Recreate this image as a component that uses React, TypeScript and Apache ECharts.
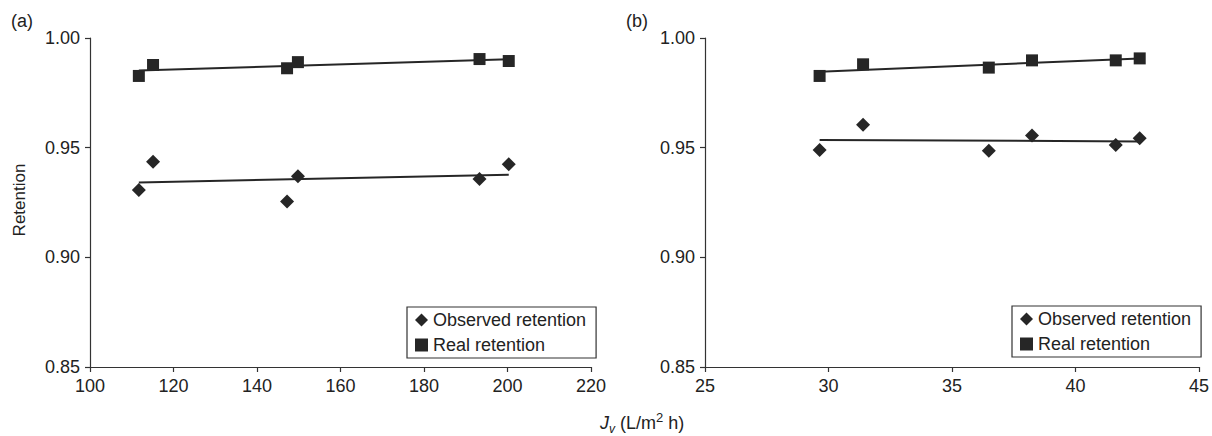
import React, { useEffect, useRef } from "react";
import * as echarts from "echarts";

// Panel (a)
const aFlux = [111.7, 115.1, 147.2, 149.8, 193.3, 200.3];
const aObserved = [0.9307, 0.9436, 0.9254, 0.937, 0.9357, 0.9424];
const aReal = [0.9827, 0.9877, 0.9862, 0.989, 0.9904, 0.9895];

// Panel (b)
const bFlux = [29.64, 31.4, 36.49, 38.24, 41.63, 42.6];
const bObserved = [0.9489, 0.9605, 0.9486, 0.9555, 0.9512, 0.9543];
const bReal = [0.9827, 0.988, 0.9865, 0.9898, 0.9898, 0.9907];

const yTicks = [0.85, 0.9, 0.95, 1.0];
const aXTicks = [100, 120, 140, 160, 180, 200, 220];
const bXTicks = [25, 30, 35, 40, 45];

const OBS = "Observed retention";
const REAL = "Real retention";

function fit(xs: number[], ys: number[]): number[][] {
  const n = xs.length;
  const mx = xs.reduce((s, v) => s + v, 0) / n;
  const my = ys.reduce((s, v) => s + v, 0) / n;
  let sxy = 0;
  let sxx = 0;
  for (let i = 0; i < n; i++) {
    sxy += (xs[i] - mx) * (ys[i] - my);
    sxx += (xs[i] - mx) * (xs[i] - mx);
  }
  const b = sxy / sxx;
  const a = my - b * mx;
  const x0 = Math.min(...xs);
  const x1 = Math.max(...xs);
  return [
    [x0, a + b * x0],
    [x1, a + b * x1],
  ];
}

const FONT = "Liberation Sans, Arial, Helvetica, sans-serif";
const INK = "#222";
const AXIS = "#333";
const MARK = "#262626";

export default function App() {
  const ref = useRef<HTMLDivElement>(null);

  useEffect(() => {
    if (!ref.current) return;
    const chart = echarts.init(ref.current, null, { renderer: "svg" });

    const xAxisBase = (min: number, max: number, interval: number, gridIndex: number) => ({
      type: "value",
      gridIndex,
      min,
      max,
      interval,
      splitLine: { show: false },
      axisLine: { show: true, onZero: false, lineStyle: { color: AXIS, width: 1.2 } },
      axisTick: { show: true, inside: false, length: 5, lineStyle: { color: AXIS, width: 1.2 } },
      axisLabel: { margin: 10, fontSize: 18, color: INK, fontFamily: FONT },
    });

    const yAxisBase = (gridIndex: number) => ({
      type: "value",
      gridIndex,
      min: yTicks[0],
      max: yTicks[yTicks.length - 1],
      interval: 0.05,
      splitLine: { show: false },
      axisLine: { show: true, onZero: false, lineStyle: { color: AXIS, width: 1.2 } },
      axisTick: { show: true, inside: false, length: 5, lineStyle: { color: AXIS, width: 1.2 } },
      axisLabel: {
        margin: 10,
        fontSize: 18,
        color: INK,
        fontFamily: FONT,
        formatter: (v: number) => v.toFixed(2),
      },
    });

    const legendBase = (left: number, top: number) => ({
      left,
      top,
      orient: "vertical",
      data: [OBS, REAL],
      borderColor: AXIS,
      borderWidth: 1.2,
      padding: [3, 10, 3, 8],
      itemGap: 5,
      itemWidth: 13,
      itemHeight: 13,
      itemStyle: { color: MARK, opacity: 1 },
      textStyle: { fontSize: 18, color: INK, fontFamily: FONT, lineHeight: 20 },
      selectedMode: false,
    });

    const scatter = (name: string, xs: number[], ys: number[], idx: number, symbol: string, size: number) => ({
      type: "scatter",
      name,
      xAxisIndex: idx,
      yAxisIndex: idx,
      symbol,
      symbolSize: size,
      itemStyle: { color: MARK, opacity: 1 },
      z: 5,
      data: xs.map((x, i) => [x, ys[i]]),
    });

    const trend = (name: string, xs: number[], ys: number[], idx: number) => ({
      type: "line",
      name,
      xAxisIndex: idx,
      yAxisIndex: idx,
      showSymbol: false,
      symbol: "none",
      lineStyle: { color: MARK, width: 2 },
      z: 3,
      data: fit(xs, ys),
    });

    chart.setOption({
      animation: false,
      backgroundColor: "#ffffff",
      textStyle: { fontFamily: FONT },
      grid: [
        { left: 90, top: 38, width: 501, height: 329 },
        { left: 705, top: 38, width: 496, height: 329 },
      ],
      xAxis: [
        xAxisBase(aXTicks[0], aXTicks[aXTicks.length - 1], 20, 0),
        xAxisBase(bXTicks[0], bXTicks[bXTicks.length - 1], 5, 1),
      ],
      yAxis: [yAxisBase(0), yAxisBase(1)],
      legend: [legendBase(407, 307), legendBase(1012, 306)],
      series: [
        trend("fitObsA", aFlux, aObserved, 0),
        trend("fitRealA", aFlux, aReal, 0),
        scatter(OBS, aFlux, aObserved, 0, "diamond", 14),
        scatter(REAL, aFlux, aReal, 0, "rect", 12),
        trend("fitObsB", bFlux, bObserved, 1),
        trend("fitRealB", bFlux, bReal, 1),
        scatter(OBS, bFlux, bObserved, 1, "diamond", 14),
        scatter(REAL, bFlux, bReal, 1, "rect", 12),
      ],
      graphic: [
        {
          type: "text",
          left: 11,
          top: 12,
          style: { text: "(a)", fontSize: 18, fill: INK, fontFamily: FONT },
        },
        {
          type: "text",
          left: 626,
          top: 12,
          style: { text: "(b)", fontSize: 18, fill: INK, fontFamily: FONT },
        },
        {
          type: "text",
          x: 19,
          y: 200,
          rotation: Math.PI / 2,
          style: {
            text: "Retention",
            fontSize: 17,
            fill: INK,
            fontFamily: FONT,
            align: "center",
            verticalAlign: "middle",
          },
        },
        {
          type: "text",
          x: 600,
          y: 423,
          style: {
            text: "{j|J}{s|v}{n| (L/m}{p|2}{n| h)}",
            fill: INK,
            fontFamily: FONT,
            verticalAlign: "middle",
            align: "left",
            rich: {
              j: { fontSize: 18, fontStyle: "italic", lineHeight: 24, fill: INK, fontFamily: FONT },
              s: { fontSize: 12, fontStyle: "italic", lineHeight: 24, verticalAlign: "bottom", padding: [6, 0, 0, 0], fill: INK, fontFamily: FONT },
              n: { fontSize: 18, lineHeight: 24, fill: INK, fontFamily: FONT },
              p: { fontSize: 13, lineHeight: 24, verticalAlign: "top", fill: INK, fontFamily: FONT },
            },
          },
        },
      ],
    });

    return () => chart.dispose();
  }, []);

  return (
    <div
      ref={ref}
      style={{ position: "absolute", left: 0, top: 0, width: 1212, height: 436 }}
    />
  );
}
